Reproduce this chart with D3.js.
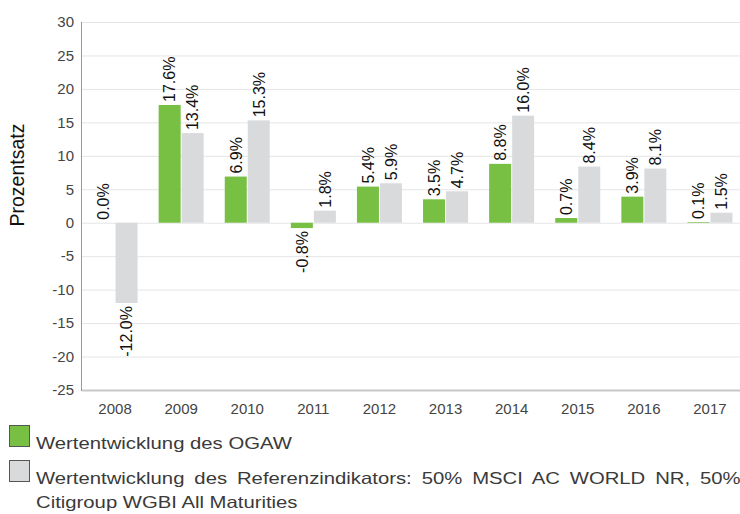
<!DOCTYPE html>
<html>
<head>
<meta charset="utf-8">
<script src="https://cdn.jsdelivr.net/npm/d3@7"></script>
<style>
  body { margin: 0; background: #fff; }
  svg { display: block; font-family: "Liberation Sans", Arial, sans-serif; }
</style>
</head>
<body>
<div id="chart"></div>
<script>
var years = ["2008", "2009", "2010", "2011", "2012", "2013", "2014", "2015", "2016", "2017"];
var fundValues = [0.0, 17.6, 6.9, -0.8, 5.4, 3.5, 8.8, 0.7, 3.9, 0.1];
var benchValues = [-12.0, 13.4, 15.3, 1.8, 5.9, 4.7, 16.0, 8.4, 8.1, 1.5];
var yTicks = [30, 25, 20, 15, 10, 5, 0, -5, -10, -15, -20, -25];
var seriesNames = ["Wertentwicklung des OGAW",
  "Wertentwicklung des Referenzindikators: 50% MSCI AC WORLD NR, 50%",
  "Citigroup WGBI All Maturities"];

var width = 740, height = 514;
var margin = { top: 22, left: 82 };
var plotRight = 743;

var svg = d3.select("#chart").append("svg")
  .attr("width", width)
  .attr("height", height);

var y = d3.scaleLinear().domain([-25, 30]).range([390, margin.top]);
var x = d3.scaleBand().domain(years).range([margin.left, plotRight]);
var barW = 22, gap = 1;

// grid
svg.append("g").selectAll("line").data(yTicks.filter(function (d) { return d !== -25; }))
  .enter().append("line")
  .attr("x1", margin.left).attr("x2", width)
  .attr("y1", function (d) { return y(d) + 0.5; })
  .attr("y2", function (d) { return y(d) + 0.5; })
  .style("stroke", "#e5e5e5").style("stroke-width", 1);

// y tick labels
svg.append("g").selectAll("text").data(yTicks)
  .enter().append("text")
  .attr("x", 74)
  .attr("y", function (d) { return y(d); })
  .attr("dy", "0.35em")
  .attr("text-anchor", "end")
  .style("font-size", "15px")
  .style("fill", "#444")
  .text(function (d) { return d; });

// x tick labels
svg.append("g").selectAll("text").data(years)
  .enter().append("text")
  .attr("x", function (d) { return x(d) + x.bandwidth() / 2; })
  .attr("y", 414)
  .attr("text-anchor", "middle")
  .style("font-size", "15px")
  .style("fill", "#444")
  .text(function (d) { return d; });

// y title
svg.append("text")
  .attr("transform", "translate(24,175) rotate(-90)")
  .attr("text-anchor", "middle")
  .style("font-size", "19.5px")
  .style("fill", "#111")
  .text("Prozentsatz");

var series = [
  { values: fundValues, color: "#77c043", offset: -barW - gap / 2 },
  { values: benchValues, color: "#d9dadc", offset: gap / 2 }
];

series.forEach(function (s) {
  var g = svg.append("g");
  g.selectAll("rect").data(s.values).enter().append("rect")
    .attr("x", function (d, i) { return x(years[i]) + x.bandwidth() / 2 + s.offset; })
    .attr("y", function (d) { return Math.min(y(d), y(0)); })
    .attr("width", barW)
    .attr("height", function (d) { return Math.abs(y(d) - y(0)); })
    .style("fill", s.color);
  g.selectAll("text").data(s.values).enter().append("text")
    .attr("transform", function (d, i) {
      var cx = x(years[i]) + x.bandwidth() / 2 + s.offset + barW / 2;
      var cy = d >= 0 ? y(d) - 3 : y(d) + 3;
      return "translate(" + cx + "," + cy + ") rotate(-90)";
    })
    .attr("dy", "0.36em")
    .attr("text-anchor", function (d) { return d >= 0 ? "start" : "end"; })
    .style("font-family", "'Liberation Sans Narrow', 'Liberation Sans', sans-serif")
    .style("font-size", "16px")
    .style("fill", "#111")
    .text(function (d) { return d.toFixed(1) + "%"; });
});

// axes lines
svg.append("line").attr("x1", margin.left - 0.5).attr("x2", margin.left - 0.5)
  .attr("y1", margin.top).attr("y2", 391)
  .style("stroke", "#999").style("stroke-width", 1);
svg.append("line").attr("x1", margin.left).attr("x2", width)
  .attr("y1", 390.5).attr("y2", 390.5)
  .style("stroke", "#c8c8c8").style("stroke-width", 2);

// legend
var legend = svg.append("g");
legend.append("rect").attr("x", 9.5).attr("y", 425.5).attr("width", 20).attr("height", 21)
  .style("fill", "#77c043").style("stroke", "#555");
legend.append("rect").attr("x", 9.5).attr("y", 460.5).attr("width", 20).attr("height", 21)
  .style("fill", "#d9dadc").style("stroke", "#555");

var legendRows = [
  { text: seriesNames[0], y: 449 },
  { text: seriesNames[1], y: 484, justify: 705 },
  { text: seriesNames[2], y: 508 }
];
var sx = 1;
legendRows.forEach(function (r, i) {
  var t = legend.append("text")
    .style("font-size", "16.5px").style("fill", "#3a3a3a")
    .text(r.text);
  if (i === 0) sx = 256 / t.node().getComputedTextLength();
  if (r.justify) {
    var natural = t.node().getComputedTextLength() * sx;
    var spaces = r.text.split(" ").length - 1;
    t.style("word-spacing", ((r.justify - natural) / spaces / sx) + "px");
  }
  t.attr("transform", "translate(36," + r.y + ") scale(" + sx + ",1)");
});
</script>
</body>
</html>
